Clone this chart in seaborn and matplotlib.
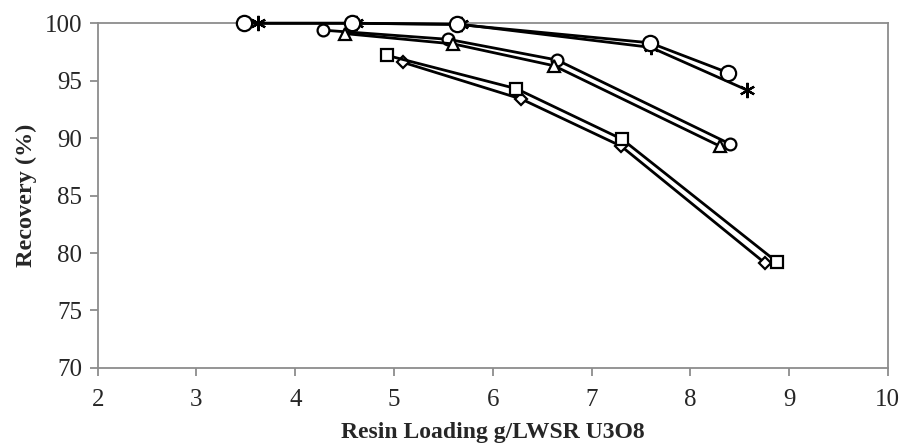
import pandas as pd
import matplotlib
matplotlib.use("Agg")
import matplotlib.pyplot as plt
import seaborn as sns

# data
star_x = [3.62, 4.62, 5.68, 7.60, 8.57]
star_y = [100.0, 100.0, 99.9, 97.9, 94.2]

bigcirc_x = [3.48, 4.57, 5.64, 7.59, 8.38]
bigcirc_y = [100.0, 100.0, 99.9, 98.3, 95.7]

circ_x = [4.28, 5.55, 6.65, 8.40]
circ_y = [99.4, 98.6, 96.8, 89.5]

tri_x = [4.50, 5.60, 6.62, 8.30]
tri_y = [99.1, 98.2, 96.3, 89.3]

diam_x = [5.09, 6.29, 7.30, 8.76]
diam_y = [96.6, 93.4, 89.3, 79.1]

sq_x = [4.93, 6.24, 7.31, 8.88]
sq_y = [97.2, 94.3, 89.9, 79.2]

sns.set_style("white")
plt.rcParams['font.family'] = ['Liberation Serif', 'DejaVu Serif']

fig, ax = plt.subplots(figsize=(9.05, 4.47), dpi=100)
fig.subplots_adjust(left=0.108, right=0.981, top=0.948, bottom=0.177)

series = [
    (star_x, star_y, (6, 2, 0), 11),
    (bigcirc_x, bigcirc_y, 'o', 11),
    (circ_x, circ_y, 'o', 8.5),
    (tri_x, tri_y, '^', 9),
    (diam_x, diam_y, 'D', 6.5),
    (sq_x, sq_y, 's', 8.5),
]

for xs, ys, m, ms in series:
    df = pd.DataFrame({'x': xs, 'y': ys})
    sns.lineplot(data=df, x='x', y='y', ax=ax, sort=False, color='black',
                 linewidth=2.0, marker=m, markersize=ms,
                 markerfacecolor='white', markeredgecolor='black',
                 markeredgewidth=1.6)

for ln in ax.lines:
    ln.set_clip_on(False)

ax.set_xlim(2, 10)
ax.set_ylim(70, 100)
ax.set_xticks(range(2, 11))
ax.set_yticks(range(70, 101, 5))

for s in ax.spines.values():
    s.set_color('#8c8c8c')
    s.set_linewidth(1.3)
    s.set_zorder(0.5)

ax.tick_params(axis='both', direction='out', length=6, width=1.3,
               color='#8c8c8c', labelsize=18, pad=5)
ax.tick_params(axis='x', pad=9)
ax.tick_params(left=True, bottom=True)

ax.set_xlabel('Resin Loading g/LWSR U3O8', fontsize=17, fontweight='bold', labelpad=8)
ax.set_ylabel('Recovery (%)', fontsize=17.5, fontweight='bold', labelpad=6)

fig.savefig('out.png', dpi=100)
